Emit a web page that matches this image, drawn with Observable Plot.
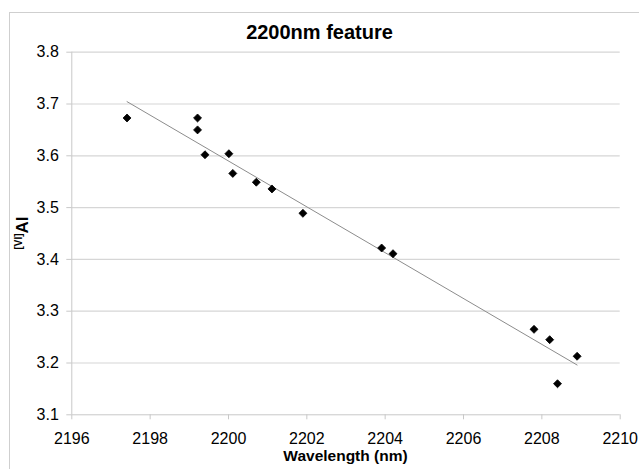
<!DOCTYPE html>
<html>
<head>
<meta charset="utf-8">
<script src="https://cdn.jsdelivr.net/npm/d3@7"></script>
<script src="https://cdn.jsdelivr.net/npm/@observablehq/plot@0.6"></script>
<style>
  html, body { margin: 0; padding: 0; background: #fff; overflow: hidden; }
  #wrap { position: relative; width: 639px; height: 469px; overflow: hidden; font-family: "Liberation Sans", Arial, sans-serif; }
  #frame { position: absolute; left: 9px; top: 12px; width: 700px; height: 520px; border: 1px solid #cfcfcf; box-sizing: border-box; }
  #title { position: absolute; left: 0; width: 639px; top: 21px; text-align: center; font-weight: bold; font-size: 20px; color: #000; }
  #ylab { position: absolute; left: 23px; top: 233px; transform: translate(-50%, -50%) rotate(-90deg); font-weight: bold; font-size: 17px; color: #000; white-space: nowrap; }
  #ylab sup { font-size: 10px; vertical-align: 6px; }
  #xlab { position: absolute; left: 71px; width: 549px; top: 447px; text-align: center; font-weight: bold; font-size: 15.5px; color: #000; }
  #plot { position: absolute; left: 0; top: 0; }
</style>
</head>
<body>
<div id="wrap">
  <div id="frame"></div>
  <div id="plot"></div>
  <div id="title">2200nm feature</div>
  <div id="ylab"><sup>[VI]</sup>Al</div>
  <div id="xlab">Wavelength (nm)</div>
</div>
<script>
const wavelength = [2197.41, 2199.21, 2199.21, 2199.40, 2200.01, 2200.11, 2200.71, 2201.11, 2201.90, 2203.91, 2204.20, 2207.80, 2208.20, 2208.40, 2208.90];
const alVI = [3.673, 3.673, 3.650, 3.602, 3.604, 3.566, 3.549, 3.536, 3.489, 3.422, 3.411, 3.265, 3.245, 3.160, 3.213];
const xTicks = [2196, 2198, 2200, 2202, 2204, 2206, 2208, 2210];
const yTicks = [3.1, 3.2, 3.3, 3.4, 3.5, 3.6, 3.7, 3.8];

const data = wavelength.map((x, i) => ({x, y: alVI[i]}));

const chart = Plot.plot({
  width: 639,
  height: 469,
  marginLeft: 71.3,
  marginRight: 19.3,
  marginTop: 51.7,
  marginBottom: 54.7,
  style: {fontFamily: "'Liberation Sans', Arial, sans-serif", fontSize: "16px", color: "#000", background: "transparent"},
  x: {domain: [2196, 2210], ticks: xTicks, label: null, tickFormat: d => String(d)},
  y: {domain: [3.1, 3.8], ticks: yTicks, label: null, tickFormat: d3.format(".1f")},
  marks: [
    Plot.ruleY(yTicks.filter(d => d > 3.1), {stroke: "#d6d6d6", strokeWidth: 1.2}),
    Plot.ruleX([2196], {stroke: "#c8c8c8", strokeWidth: 1}),
    Plot.ruleY([3.1], {stroke: "#c8c8c8", strokeWidth: 1}),
    Plot.axisX({ticks: xTicks, tickSize: 5, tickPadding: 13, stroke: "#c8c8c8", fill: "#000", label: null, tickFormat: d => String(d)}),
    Plot.axisY({ticks: yTicks, tickSize: 5, tickPadding: 8, stroke: "#c8c8c8", fill: "#000", label: null, tickFormat: d3.format(".1f")}),
    Plot.linearRegressionY(data, {x: "x", y: "y", stroke: "#8c8c8c", strokeWidth: 1, ci: 0}),
    Plot.dot(data, {x: "x", y: "y", symbol: "diamond2", fill: "#000", stroke: "#000", strokeWidth: 0.8, r: 3.6})
  ]
});
document.getElementById("plot").appendChild(chart);
</script>
</body>
</html>
